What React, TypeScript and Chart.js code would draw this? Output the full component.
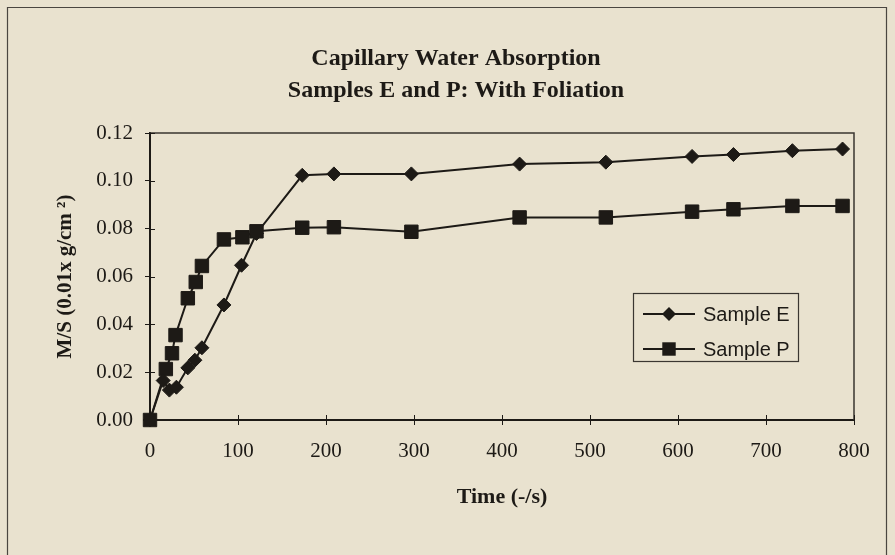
import React, { useEffect, useRef } from 'react';
import { Chart, registerables } from 'chart.js';

Chart.register(...registerables);

const TITLE_LINES = ['Capillary Water Absorption', 'Samples E and P: With Foliation'];
const X_TITLE = 'Time (-/s)';
const Y_TITLE = 'M/S (0.01x g/cm \u00B2)';
const SERIES_NAMES = ['Sample E', 'Sample P'];

const TIME_E = [0, 15, 22, 30, 43, 51, 59, 84, 104, 121, 173, 209, 297, 420, 518, 616, 663, 730, 787];
const VALUES_E = [0, 0.0165, 0.0125, 0.0137, 0.0218, 0.025, 0.0302, 0.0481, 0.0647, 0.078, 0.1023, 0.1029, 0.1029, 0.1070, 0.1078, 0.1102, 0.1110, 0.1126, 0.1133];

const TIME_P = [0, 18, 25, 29, 43, 52, 59, 84, 105, 121, 173, 209, 297, 420, 518, 616, 663, 730, 787];
const VALUES_P = [0, 0.0213, 0.0279, 0.0355, 0.0509, 0.0577, 0.0644, 0.0755, 0.0764, 0.0789, 0.0804, 0.0806, 0.0787, 0.0847, 0.0847, 0.0871, 0.0881, 0.0895, 0.0895];

const X_MIN = 0;
const X_MAX = 800;
const X_STEP = 100;
const Y_MIN = 0;
const Y_MAX = 0.12;
const Y_STEP = 0.02;

const BG = '#e9e2cf';
const INK = '#1d1a16';
const SERIF = '"Liberation Serif", "Times New Roman", serif';
const SANS = '"Liberation Sans", Arial, sans-serif';

function drawMarker(ctx: CanvasRenderingContext2D, style: string, x: number, y: number, r: number) {
  ctx.beginPath();
  if (style === 'rectRot') {
    ctx.moveTo(x, y - r);
    ctx.lineTo(x + r, y);
    ctx.lineTo(x, y + r);
    ctx.lineTo(x - r, y);
    ctx.closePath();
  } else {
    const s = Math.SQRT1_2 * r;
    ctx.rect(x - s, y - s, 2 * s, 2 * s);
  }
  ctx.fill();
}

const framePlugin = {
  id: 'frame',
  afterLayout(chart: any) {
    if (chart.titleBlock) {
      chart.titleBlock.left = 58;
    }
  },
  beforeDraw(chart: any) {
    const ctx = chart.ctx as CanvasRenderingContext2D;
    ctx.save();
    ctx.fillStyle = BG;
    ctx.fillRect(0, 0, chart.width, chart.height);
    ctx.strokeStyle = '#4a4640';
    ctx.lineWidth = 1.2;
    ctx.beginPath();
    ctx.moveTo(7.5, 560);
    ctx.lineTo(7.5, 7.5);
    ctx.lineTo(886.5, 7.5);
    ctx.lineTo(886.5, 560);
    ctx.stroke();
    ctx.restore();
  },
  afterDraw(chart: any) {
    const ctx = chart.ctx as CanvasRenderingContext2D;
    const { left, right, top, bottom } = chart.chartArea;
    ctx.save();
    ctx.strokeStyle = '#3a3631';
    ctx.lineWidth = 1.5;
    ctx.beginPath();
    ctx.moveTo(left, top);
    ctx.lineTo(right, top);
    ctx.lineTo(right, bottom);
    ctx.stroke();
    ctx.strokeStyle = INK;
    ctx.lineWidth = 1;
    const xs = chart.scales.x;
    const ys = chart.scales.y;
    ctx.beginPath();
    xs.ticks.forEach((t: any) => {
      const px = Math.round(xs.getPixelForValue(t.value)) + 0.5;
      ctx.moveTo(px, bottom);
      ctx.lineTo(px, bottom - 5);
    });
    ys.ticks.forEach((t: any) => {
      const py = Math.round(ys.getPixelForValue(t.value)) + 0.5;
      ctx.moveTo(left, py);
      ctx.lineTo(left + 5, py);
    });
    ctx.stroke();

    const lx = 633, ly = 293, lw = 165, lh = 68;
    ctx.fillStyle = BG;
    ctx.fillRect(lx, ly, lw, lh);
    ctx.strokeStyle = '#3a3631';
    ctx.lineWidth = 1.2;
    ctx.strokeRect(lx + 0.5, ly + 0.5, lw, lh);
    chart.data.datasets.forEach((ds: any, i: number) => {
      const cy = ly + 21 + i * 35;
      ctx.strokeStyle = ds.borderColor;
      ctx.lineWidth = ds.borderWidth;
      ctx.beginPath();
      ctx.moveTo(lx + 10, cy);
      ctx.lineTo(lx + 62, cy);
      ctx.stroke();
      ctx.fillStyle = ds.pointBackgroundColor;
      drawMarker(ctx, ds.pointStyle, lx + 36, cy, ds.pointRadius);
      ctx.fillStyle = INK;
      ctx.font = `20px ${SANS}`;
      ctx.textBaseline = 'middle';
      ctx.textAlign = 'left';
      ctx.fillText(ds.label, lx + 70, cy + 1);
    });
    ctx.restore();
  },
};

export default function App() {
  const canvasRef = useRef<HTMLCanvasElement | null>(null);

  useEffect(() => {
    const canvas = canvasRef.current;
    if (!canvas) return;
    const chart = new Chart(canvas, {
      type: 'line',
      data: {
        datasets: [
          {
            label: SERIES_NAMES[0],
            data: TIME_E.map((t, i) => ({ x: t, y: VALUES_E[i] })),
            borderColor: INK,
            backgroundColor: INK,
            pointBackgroundColor: INK,
            pointBorderColor: INK,
            borderWidth: 2,
            pointStyle: 'rectRot',
            pointRadius: 7,
            pointBorderWidth: 1,
            tension: 0,
            clip: false,
          },
          {
            label: SERIES_NAMES[1],
            data: TIME_P.map((t, i) => ({ x: t, y: VALUES_P[i] })),
            borderColor: INK,
            backgroundColor: INK,
            pointBackgroundColor: INK,
            pointBorderColor: INK,
            borderWidth: 2,
            pointStyle: 'rect',
            pointRadius: 9.5,
            pointBorderWidth: 1,
            tension: 0,
            clip: false,
          },
        ],
      } as any,
      options: {
        responsive: false,
        animation: false,
        devicePixelRatio: 1,
        layout: { padding: { left: 0, right: 41, top: 0, bottom: 40 } },
        plugins: {
          legend: { display: false },
          tooltip: { enabled: false },
          title: {
            display: true,
            text: TITLE_LINES,
            color: INK,
            font: { family: SERIF, size: 24, weight: 'bold', lineHeight: '32px' } as any,
            padding: { top: 43, bottom: 26 },
          },
        },
        scales: {
          x: {
            type: 'linear',
            min: X_MIN,
            max: X_MAX,
            afterFit(scale: any) { scale.height = 95; },
            ticks: {
              stepSize: X_STEP,
              color: INK,
              padding: 14,
              font: { family: SERIF, size: 21 },
              maxRotation: 0,
            },
            grid: { drawOnChartArea: false, tickLength: 5, color: INK, lineWidth: 1 },
            border: { display: true, color: INK, width: 2 },
            title: {
              display: true,
              text: X_TITLE,
              color: INK,
              font: { family: SERIF, size: 22, weight: 'bold' },
              padding: { top: 0, bottom: 4 },
            },
          },
          y: {
            type: 'linear',
            min: Y_MIN,
            max: Y_MAX,
            afterFit(scale: any) { scale.width = 150; },
            ticks: {
              stepSize: Y_STEP,
              color: INK,
              padding: 12,
              font: { family: SERIF, size: 21 },
              callback: (v: any) => Number(v).toFixed(2),
            },
            grid: { drawOnChartArea: false, tickLength: 5, color: INK, lineWidth: 1 },
            border: { display: true, color: INK, width: 2 },
            title: {
              display: true,
              text: Y_TITLE,
              color: INK,
              font: { family: SERIF, size: 21, weight: 'bold' },
              padding: { top: 53, bottom: 0 },
            },
          },
        },
      } as any,
      plugins: [framePlugin],
    });
    return () => chart.destroy();
  }, []);

  return (
    <div style={{ position: 'absolute', left: 0, top: 0, width: 895, height: 555 }}>
      <canvas ref={canvasRef} width={895} height={555} style={{ display: 'block', width: 895, height: 555 }} />
    </div>
  );
}
